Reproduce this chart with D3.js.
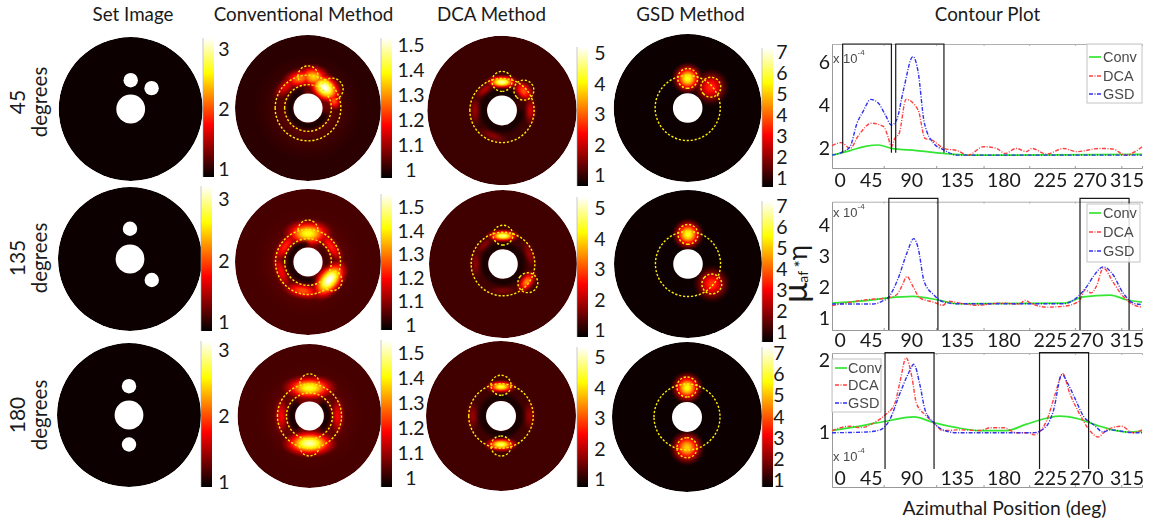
<!DOCTYPE html>
<html>
<head>
<meta charset="utf-8">
<style>
  body { margin: 0; background: #fff; overflow: hidden; }
  svg { display: block; }
  text { font-family: Lato, "Open Sans", sans-serif; fill: #1a1a1a; }
  .legend text, .scale10 { font-family: "Liberation Sans", Arial, sans-serif; fill: #4a4a4a; }
  .blob { mix-blend-mode: lighten; }
</style>
<script src="https://cdn.jsdelivr.net/npm/d3@7"></script>
</head>
<body>
<div id="chart"></div>
<script>
// Titles and labels
const methods = ["Set Image", "Conventional Method", "DCA Method", "GSD Method"];
const rowNames = ["45", "135", "180"];
const barLabels = [
  ["1", "2", "3"],
  ["1", "1.1", "1.2", "1.3", "1.4", "1.5"],
  ["1", "2", "3", "4", "5"],
  ["1", "2", "3", "4", "5", "6", "7"]
];
const seriesNames = ["Conv", "DCA", "GSD"];
const azimuthLabels = ["0", "45", "90", "135", "180", "225", "270", "315"];

// Disc background level on the hot colormap, rows by method
const backgroundLevel = [
  [0.01, 0.065, 0.085, 0.012],
  [0.01, 0.105, 0.095, 0.012],
  [0.01, 0.105, 0.095, 0.012]
];

// White inclusions of the set image: [azimuth, radial position]
const setSpots = [
  [[90, 0.40], [45, 0.41]],
  [[90, 0.42], [316, 0.42]],
  [[90, 0.40], [270, 0.41]]
];

// Hot spots: [azimuth, radial position, tangential extent, radial extent, colormap level]
const convSpots45 = [[0, 0, 0.72, 0.72, 0.19], [135, 0.42, 0.3, 0.14, 0.34], [105, 0.42, 0.3, 0.17, 0.56], [80, 0.43, 0.28, 0.2, 0.68], [50, 0.36, 0.3, 0.22, 1], [15, 0.37, 0.17, 0.13, 0.5]];
const convSpots135 = [[0, 0, 0.74, 0.74, 0.2], [90, 0.39, 0.38, 0.22, 0.78], [320, 0.38, 0.36, 0.21, 1], [35, 0.38, 0.34, 0.13, 0.42], [145, 0.38, 0.34, 0.13, 0.42], [200, 0.39, 0.34, 0.12, 0.36], [260, 0.40, 0.34, 0.14, 0.5]];
const convSpots180 = [[0, 0, 0.74, 0.74, 0.2], [90, 0.39, 0.42, 0.2, 0.8], [270, 0.38, 0.42, 0.21, 0.92], [0, 0.39, 0.34, 0.13, 0.36], [180, 0.39, 0.34, 0.13, 0.36]];
const dcaSpots45 = [[90, 0.38, 0.24, 0.11, 0.92], [42, 0.39, 0.2, 0.14, 0.5], [180, 0.36, 0.24, 0.1, 0.22], [0, 0.38, 0.24, 0.1, 0.3], [250, 0.36, 0.26, 0.09, 0.2], [130, 0.36, 0.2, 0.09, 0.26]];
const dcaSpots135 = [[90, 0.38, 0.24, 0.1, 0.88], [323, 0.4, 0.2, 0.12, 0.58], [180, 0.37, 0.24, 0.1, 0.2], [20, 0.38, 0.24, 0.09, 0.22], [270, 0.36, 0.24, 0.08, 0.18], [135, 0.36, 0.2, 0.08, 0.2]];
const dcaSpots180 = [[90, 0.39, 0.22, 0.1, 0.8], [270, 0.38, 0.24, 0.11, 0.85], [180, 0.38, 0.24, 0.1, 0.22], [0, 0.38, 0.24, 0.1, 0.22]];
const gsdSpots45 = [[90, 0.40, 0.23, 0.23, 0.78], [42, 0.42, 0.27, 0.27, 0.44]];
const gsdSpots135 = [[90, 0.40, 0.23, 0.23, 0.78], [320, 0.42, 0.27, 0.27, 0.46]];
const gsdSpots180 = [[90, 0.39, 0.23, 0.23, 0.76], [270, 0.41, 0.25, 0.25, 0.68]];

// Dark halo arcs next to the hole: [azimuth, span, strength]
const convDark45 = [[225, 240, 0.9]];
const convDark135 = [[190, 200, 0.9], [20, 70, 0.5]];
const convDark180 = [[180, 100, 0.95], [0, 100, 0.95]];
const dcaDark45 = [[200, 320, 0.72]];
const dcaDark135 = [[180, 360, 0.72]];
const dcaDark180 = [[180, 360, 0.72]];

// Dotted outlines: [azimuth, radial position, circle size, arc span]
const convRings45 = [[0, 0, 0.45, 360], [0, 0, 0.32, 360], [90, 0.44, 0.137, 230], [38, 0.42, 0.15, 230]];
const convRings135 = [[0, 0, 0.445, 360], [0, 0, 0.32, 360], [90, 0.44, 0.135, 180], [322, 0.42, 0.135, 230]];
const convRings180 = [[0, 0, 0.445, 360], [0, 0, 0.32, 360], [90, 0.45, 0.135, 180], [270, 0.42, 0.135, 180]];
const dcaRings45 = [[0, 0, 0.43, 360], [90, 0.39, 0.134, 360], [43, 0.40, 0.134, 360]];
const dcaRings135 = [[0, 0, 0.43, 360], [90, 0.39, 0.134, 360], [323, 0.42, 0.134, 360]];
const dcaRings180 = [[0, 0, 0.43, 360], [90, 0.41, 0.134, 360], [270, 0.40, 0.134, 360]];
const gsdRings45 = [[0, 0, 0.44, 360], [90, 0.40, 0.134, 360], [42, 0.42, 0.134, 360]];
const gsdRings135 = [[0, 0, 0.44, 360], [90, 0.40, 0.134, 360], [320, 0.42, 0.134, 360]];
const gsdRings180 = [[0, 0, 0.44, 360], [90, 0.40, 0.134, 360], [270, 0.41, 0.134, 360]];

// Contour plot series: [azimuth deg, value x 1e-4]
const conv45 = [[0, 1.67], [21, 1.88], [40, 2.09], [54, 2.14], [69, 1.98], [98, 1.88], [129, 1.75], [156, 1.67], [360, 1.70]];
const dca45 = [[0, 2.11], [11, 2.25], [21, 1.98], [31, 2.6], [46, 3.15], [60, 2.99], [65, 2.53], [69, 2.06], [73, 2.45], [78, 2.68], [86, 4.26], [100, 3.77], [108, 2.45], [116, 2.37], [130, 1.98], [145, 1.88], [158, 1.67], [176, 2.06], [191, 1.98], [201, 1.75], [214, 1.98], [226, 1.83], [232, 1.98], [249, 1.72], [269, 1.98], [284, 1.83], [311, 1.98], [327, 1.95], [340, 1.67], [352, 1.83], [360, 2.06]];
const gsd45 = [[0, 1.67], [13, 1.83], [21, 2.06], [29, 3.15], [36, 3.69], [45, 4.26], [54, 4.08], [62, 3.53], [69, 3.07], [75, 3.3], [83, 4.7], [94, 6.25], [100, 5.55], [107, 3.22], [118, 2.22], [130, 1.91], [145, 1.67], [360, 1.67]];

const conv135 = [[0, 1.48], [40, 1.56], [65, 1.65], [94, 1.7], [125, 1.57], [145, 1.46], [269, 1.48], [292, 1.68], [323, 1.74], [342, 1.59], [360, 1.51]];
const dca135 = [[0, 1.4], [40, 1.59], [65, 1.65], [75, 1.75], [81, 2.02], [87, 2.34], [94, 2.02], [102, 1.65], [118, 1.51], [129, 1.41], [135, 1.54], [149, 1.48], [168, 1.41], [195, 1.48], [218, 1.45], [224, 1.57], [232, 1.46], [249, 1.35], [269, 1.38], [287, 1.54], [294, 1.91], [301, 1.81], [307, 2.02], [315, 2.61], [327, 2.13], [338, 1.7], [350, 1.43], [360, 1.35]];
const gsd135 = [[0, 1.45], [48, 1.45], [58, 1.54], [65, 1.65], [77, 2.29], [87, 3.1], [95, 3.56], [100, 3.26], [107, 2.18], [118, 1.75], [129, 1.52], [145, 1.46], [269, 1.46], [284, 1.65], [296, 2.02], [305, 2.4], [315, 2.65], [325, 2.45], [338, 1.81], [350, 1.48], [360, 1.43]];

const conv180 = [[0, 1.02], [40, 1.1], [67, 1.16], [95, 1.21], [118, 1.13], [145, 1.06], [172, 1.02], [203, 1.02], [226, 1.11], [265, 1.22], [284, 1.19], [311, 1.08], [342, 1.0], [360, 1.01]];
const dca180 = [[0, 1.02], [21, 1.08], [33, 1.06], [52, 1.15], [62, 1.24], [73, 1.4], [79, 1.7], [86, 2.03], [93, 1.75], [98, 1.4], [108, 1.24], [118, 1.13], [129, 1.02], [149, 1.03], [172, 1.02], [184, 1.06], [199, 1.06], [214, 0.99], [230, 0.99], [234, 0.96], [249, 1.15], [259, 1.52], [268, 1.81], [276, 1.54], [288, 1.24], [300, 1.01], [309, 0.93], [319, 1.03], [336, 1.08], [350, 0.99], [360, 1.03]];
const gsd180 = [[0, 0.99], [40, 1.0], [56, 1.03], [67, 1.17], [79, 1.54], [89, 1.82], [95, 1.94], [102, 1.66], [108, 1.31], [118, 1.13], [129, 1.03], [145, 0.99], [211, 0.99], [234, 0.99], [249, 1.08], [257, 1.29], [267, 1.8], [274, 1.67], [282, 1.47], [292, 1.22], [304, 1.1], [315, 1.0], [323, 1.03], [350, 0.99], [360, 0.99]];

// Where the axis labels sit along each plot, and the faint tick marks
const labelSpots45 = [9, 45, 92, 145, 199, 253, 299, 342];
const labelSpots = [9, 45, 92, 145, 199, 253, 295, 342];
const faintTicks = [60, 121, 176, 229, 282, 336];
const yTicks45 = [2, 4, 6];
const yTicks135 = [1, 2, 3, 4];
const yTicks180 = [1, 2];

// Black brackets over the peaks: [from deg, to deg]
const brackets45 = [[12.4, 69], [74, 130]];
const brackets135 = [[66, 123], [288, 345]];
const brackets180 = [[61.6, 118.5], [241, 298]];

// ---- layout ----
const width = 1150, height = 523;
const discs = [
  [{ cx: 130.7, cy: 109, r: 72 }, { cx: 308, cy: 108, r: 73 }, { cx: 502, cy: 110.5, r: 74.7 }, { cx: 687.7, cy: 108, r: 74 }],
  [{ cx: 130, cy: 259, r: 72 }, { cx: 308, cy: 262, r: 73 }, { cx: 503, cy: 264, r: 74 }, { cx: 688, cy: 264, r: 74 }],
  [{ cx: 129, cy: 415, r: 72 }, { cx: 309.5, cy: 416, r: 72 }, { cx: 501, cy: 416, r: 75 }, { cx: 687, cy: 417, r: 75 }]
];
const bars = [
  [{ x: 203, top: 38, bottom: 177, lo: 169, hi: 49, tx: 224 }, { x: 381, top: 38, bottom: 178, lo: 170, hi: 45, tx: 411 }, { x: 577, top: 47, bottom: 186, lo: 175, hi: 53, tx: 600 }, { x: 762, top: 48, bottom: 187, lo: 178, hi: 52, tx: 782 }],
  [{ x: 201, top: 186, bottom: 331, lo: 322, hi: 199, tx: 224 }, { x: 381, top: 194, bottom: 330, lo: 325, hi: 207, tx: 411 }, { x: 577, top: 197, bottom: 337, lo: 330, hi: 208, tx: 600 }, { x: 762, top: 201, bottom: 342, lo: 332, hi: 206, tx: 782 }],
  [{ x: 201, top: 341, bottom: 487, lo: 482, hi: 350, tx: 224 }, { x: 381, top: 340, bottom: 487, lo: 478, hi: 353, tx: 411 }, { x: 577, top: 347, bottom: 487, lo: 479, hi: 357, tx: 600 }, { x: 762, top: 347, bottom: 487, lo: 480, hi: 353, tx: 779 }]
];
const plots = [
  { top: 44, bottom: 168, y: [148, 62], yv: [2, 6], ticks: yTicks45, spots: labelSpots45, labelY: 180,
    series: [conv45, dca45, gsd45], brackets: brackets45, bracketTop: 44, bracketBottom: 152.7,
    legend: { x: 1087, y: 44, w: 55, h: 59, sx: 1089, tx: 1103, rows: [57, 76, 94] }, scaleAt: 58 },
  { top: 201.7, bottom: 330, y: [318, 225], yv: [1, 4], ticks: yTicks135, spots: labelSpots, labelY: 340,
    series: [conv135, dca135, gsd135], brackets: brackets135, bracketTop: 198.3, bracketBottom: 330,
    legend: { x: 1087, y: 204, w: 53, h: 58, sx: 1089, tx: 1103, rows: [213, 232, 251] }, scaleAt: 212 },
  { top: 353, bottom: 487, y: [432, 360], yv: [1, 2], ticks: yTicks180, spots: labelSpots, labelY: 478,
    series: [conv180, dca180, gsd180], brackets: brackets180, bracketTop: 352.7, bracketBottom: 469,
    legend: { x: 832, y: 359, w: 49, h: 53, sx: 835, tx: 848, rows: [368, 385, 403] }, scaleAt: 456 }
];
const plotLeft = 832, plotRight = 1142;

// MATLAB style hot colormap
const hot = d3.scaleLinear()
  .domain([0, 0.375, 0.75, 1])
  .range(["#000000", "#ff0000", "#ffff00", "#ffffff"])
  .clamp(true);

const svg = d3.select("#chart").append("svg")
  .attr("width", width)
  .attr("height", height);
const defs = svg.append("defs");

[["soft", 0.6], ["haze", 0.45], ["thin", 0.2], ["halo", 2.2]].forEach(([id, dev]) => {
  defs.append("filter").attr("id", id)
    .attr("x", "-20%").attr("y", "-20%").attr("width", "140%").attr("height", "140%")
    .append("feGaussianBlur").attr("stdDeviation", dev);
});

const barGradient = defs.append("linearGradient").attr("id", "hotbar")
  .attr("x1", 0).attr("x2", 0).attr("y1", 1).attr("y2", 0);
hot.domain().forEach(t => barGradient.append("stop").attr("offset", t).attr("stop-color", hot(t)));

// ---- heat maps ----
const allSpots = [[convSpots45, dcaSpots45, gsdSpots45], [convSpots135, dcaSpots135, gsdSpots135], [convSpots180, dcaSpots180, gsdSpots180]];
const allDark = [[convDark45, dcaDark45, []], [convDark135, dcaDark135, []], [convDark180, dcaDark180, []]];
const allRings = [[convRings45, dcaRings45, gsdRings45], [convRings135, dcaRings135, gsdRings135], [convRings180, dcaRings180, gsdRings180]];

let uid = 0;

function spotFill(level, base) {
  const id = "spot" + (uid++);
  const grad = defs.append("radialGradient").attr("id", id);
  d3.range(0, 1.001, 0.1).forEach(r => {
    const fall = (Math.exp(-2.6 * r * r) - Math.exp(-2.6)) / (1 - Math.exp(-2.6));
    grad.append("stop").attr("offset", r).attr("stop-color", hot(base + (level - base) * fall));
  });
  return `url(#${id})`;
}

function drawDisc(rowIndex, colIndex) {
  const d = discs[rowIndex][colIndex];
  const x = d3.scaleLinear().domain([-1, 1]).range([d.cx - d.r, d.cx + d.r]);
  const y = d3.scaleLinear().domain([-1, 1]).range([d.cy + d.r, d.cy - d.r]);
  const size = v => x(v) - x(0);
  const polarX = (az, rad) => x(rad * Math.cos(az * Math.PI / 180));
  const polarY = (az, rad) => y(rad * Math.sin(az * Math.PI / 180));
  const base = backgroundLevel[rowIndex][colIndex];

  const clipId = `disc-${rowIndex}-${colIndex}`;
  defs.append("clipPath").attr("id", clipId)
    .append("circle").attr("cx", d.cx).attr("cy", d.cy).attr("r", d.r);

  const g = svg.append("g").attr("filter", "url(#soft)");
  const inner = g.append("g").attr("clip-path", `url(#${clipId})`).style("isolation", "isolate");

  inner.append("circle")
    .attr("cx", d.cx).attr("cy", d.cy).attr("r", d.r)
    .attr("fill", hot(base));

  if (colIndex === 0) {
    inner.selectAll("circle.spot").data(setSpots[rowIndex]).join("circle")
      .attr("class", "spot")
      .attr("cx", s => polarX(s[0], s[1]))
      .attr("cy", s => polarY(s[0], s[1]))
      .attr("r", size(0.1))
      .attr("fill", "#fff");
  } else {
    inner.selectAll("ellipse").data(allSpots[rowIndex][colIndex - 1]).join("ellipse")
      .attr("class", "blob")
      .attr("rx", s => size(s[2]))
      .attr("ry", s => size(s[3]))
      .attr("transform", s => `translate(${polarX(s[0], s[1])},${polarY(s[0], s[1])}) rotate(${90 - s[0]})`)
      .attr("fill", s => spotFill(s[4], base));

    // dark band hugging the hole
    const darkArc = d3.arc().innerRadius(size(0.2)).outerRadius(size(0.29));
    inner.append("g").attr("transform", `translate(${d.cx},${d.cy})`).attr("filter", "url(#halo)")
      .selectAll("path").data(allDark[rowIndex][colIndex - 1]).join("path")
      .attr("d", s => darkArc({
        startAngle: (90 - s[0] - s[1] / 2) * Math.PI / 180,
        endAngle: (90 - s[0] + s[1] / 2) * Math.PI / 180
      }))
      .attr("fill", "#000")
      .attr("opacity", s => s[2]);
  }

  // hole
  inner.append("circle")
    .attr("cx", d.cx).attr("cy", d.cy).attr("r", size(0.2))
    .attr("fill", "#fff");

  if (colIndex > 0) {
    svg.append("g").attr("filter", "url(#thin)")
      .selectAll("path").data(allRings[rowIndex][colIndex - 1]).join("path")
      .attr("transform", s => `translate(${polarX(s[0], s[1])},${polarY(s[0], s[1])})`)
      .attr("d", s => {
        const path = d3.path();
        const mid = -s[0] * Math.PI / 180, half = s[3] / 2 * Math.PI / 180;
        path.arc(0, 0, size(s[2]), mid - half, mid + half);
        return path.toString();
      })
      .attr("fill", "none")
      .attr("stroke", "#ffee00")
      .attr("stroke-width", 1.4)
      .attr("stroke-dasharray", "2.2 1.8");
  }
}

function drawBar(rowIndex, colIndex) {
  const b = bars[rowIndex][colIndex];
  svg.append("rect")
    .attr("x", b.x).attr("y", b.top)
    .attr("width", 11).attr("height", b.bottom - b.top)
    .attr("fill", "url(#hotbar)");
  svg.append("line")
    .attr("x1", b.x).attr("x2", b.x).attr("y1", b.top).attr("y2", b.bottom)
    .attr("stroke", "#aaa").attr("stroke-width", 0.6);
  const labels = barLabels[colIndex];
  const pos = d3.scalePoint().domain(labels).range([b.lo, b.hi]);
  svg.append("g").selectAll("text").data(labels).join("text")
    .attr("x", b.tx)
    .attr("y", t => pos(t))
    .attr("dy", "0.36em")
    .attr("text-anchor", "middle")
    .attr("font-size", 19.5)
    .text(t => t);
}

discs.forEach((row, r) => row.forEach((_, c) => {
  drawDisc(r, c);
  drawBar(r, c);
}));

// ---- headings ----
const headingX = [133, 303.5, 491.5, 690.5];
svg.append("g").selectAll("text").data(methods).join("text")
  .attr("x", (d, i) => headingX[i])
  .attr("y", 21)
  .attr("text-anchor", "middle")
  .attr("font-size", 18.8)
  .text(d => d);
svg.append("text").attr("x", 987.5).attr("y", 21)
  .attr("text-anchor", "middle").attr("font-size", 18.8).text("Contour Plot");
svg.append("text").attr("x", 1004.5).attr("y", 515)
  .attr("text-anchor", "middle").attr("font-size", 19.3).text("Azimuthal Position (deg)");

const rowCentre = [102, 258, 415];
rowNames.forEach((name, i) => {
  svg.append("text")
    .attr("transform", `translate(25,${rowCentre[i]}) rotate(-90)`)
    .attr("text-anchor", "middle").attr("font-size", 21).text(name);
  svg.append("text")
    .attr("transform", `translate(47,${rowCentre[i]}) rotate(-90)`)
    .attr("text-anchor", "middle").attr("font-size", 20.5).text("degrees");
});

const yName = svg.append("text")
  .attr("transform", "translate(807,303) rotate(-90)")
  .attr("text-anchor", "start");
yName.append("tspan").attr("font-size", 34).text("\u03bc");
yName.append("tspan").attr("font-size", 14).attr("dy", 1).text("af ");
yName.append("tspan").attr("font-size", 17).attr("dy", -1).text("*");
yName.append("tspan").attr("font-size", 26).text("\u03b7");

// ---- contour plots ----
const lineStyle = [
  { color: "#33e633", dash: null, w: 1.7 },
  { color: "#ff4040", dash: "4 1.5 1 1.5", w: 1.4 },
  { color: "#3030f0", dash: "4 1.5 1 1.5", w: 1.4 }
];
const x = d3.scaleLinear().domain([0, 360]).range([plotLeft, plotRight]);

plots.forEach(p => {
  const span = (p.y[0] - p.y[1]) / (p.yv[1] - p.yv[0]);
  const y = d3.scaleLinear()
    .domain([p.yv[0] - (p.bottom - p.y[0]) / span, p.yv[1] + (p.y[1] - p.top) / span])
    .range([p.bottom, p.top]);
  const g = svg.append("g");

  // faint frame
  const frame = g.append("g").attr("filter", "url(#haze)");
  frame.append("g").attr("transform", `translate(0,${p.bottom})`)
    .call(d3.axisBottom(x).tickValues(faintTicks).tickSize(-2).tickFormat(""))
    .call(a => a.selectAll("path,line").attr("stroke", "#999"));
  frame.append("g").attr("transform", `translate(0,${p.top})`)
    .call(d3.axisTop(x).tickValues(faintTicks).tickSize(-2).tickFormat(""))
    .call(a => a.selectAll("path,line").attr("stroke", "#b0b0b0"));
  frame.append("g").attr("transform", `translate(${plotLeft},0)`)
    .call(d3.axisLeft(y).tickValues(p.ticks).tickSize(0).tickFormat(""))
    .call(a => a.select("path").attr("stroke", "#999"));

  // curves
  const line = d3.line().x(d => x(d[0])).y(d => y(d[1])).curve(d3.curveMonotoneX);
  g.append("g").attr("filter", "url(#haze)")
    .selectAll("path").data(p.series).join("path")
    .attr("d", line)
    .attr("fill", "none")
    .attr("stroke", (d, i) => lineStyle[i].color)
    .attr("stroke-width", (d, i) => lineStyle[i].w)
    .attr("stroke-dasharray", (d, i) => lineStyle[i].dash);

  // brackets
  g.append("g").selectAll("path").data(p.brackets).join("path")
    .attr("d", b => {
      const path = d3.path();
      path.moveTo(x(b[0]), p.bracketBottom);
      path.lineTo(x(b[0]), p.bracketTop);
      path.lineTo(x(b[1]), p.bracketTop);
      path.lineTo(x(b[1]), p.bracketBottom);
      return path.toString();
    })
    .attr("fill", "none")
    .attr("stroke", "#1a1a1a")
    .attr("stroke-width", 1.2);

  // tick labels
  g.append("g").attr("transform", `translate(0,${p.labelY})`)
    .call(d3.axisBottom(x).tickValues(p.spots).tickSize(0).tickPadding(0)
      .tickFormat((d, i) => azimuthLabels[i]))
    .call(a => a.select("path").remove())
    .call(a => a.selectAll("text")
      .attr("y", 0).attr("dy", "0.36em")
      .attr("font-size", 19.5).attr("font-family", "Lato").attr("fill", "#1a1a1a"));
  g.append("g").attr("transform", "translate(830,0)")
    .call(d3.axisLeft(y).tickValues(p.ticks).tickSize(0).tickPadding(0).tickFormat(d3.format("d")))
    .call(a => a.select("path").remove())
    .call(a => a.selectAll("text")
      .attr("font-size", 19.5).attr("font-family", "Lato").attr("fill", "#1a1a1a"));

  // x 10^-4 note
  const note = g.append("text").attr("class", "scale10")
    .attr("x", 833).attr("y", p.scaleAt + 5).attr("font-size", 13);
  note.append("tspan").text("x 10");
  note.append("tspan").attr("dy", -8).attr("font-size", 8).text("-4");

  // legend
  const lg = g.append("g").attr("class", "legend");
  lg.append("rect")
    .attr("x", p.legend.x).attr("y", p.legend.y)
    .attr("width", p.legend.w).attr("height", p.legend.h)
    .attr("fill", "#fff").attr("fill-opacity", 0.85)
    .attr("stroke", "#c4c4c4");
  seriesNames.forEach((name, i) => {
    lg.append("line")
      .attr("x1", p.legend.sx).attr("x2", p.legend.sx + 12)
      .attr("y1", p.legend.rows[i]).attr("y2", p.legend.rows[i])
      .attr("stroke", lineStyle[i].color)
      .attr("stroke-width", lineStyle[i].w)
      .attr("stroke-dasharray", lineStyle[i].dash);
    lg.append("text")
      .attr("x", p.legend.tx).attr("y", p.legend.rows[i])
      .attr("dy", "0.36em").attr("font-size", 14.5)
      .text(name);
  });
});
</script>
</body>
</html>
